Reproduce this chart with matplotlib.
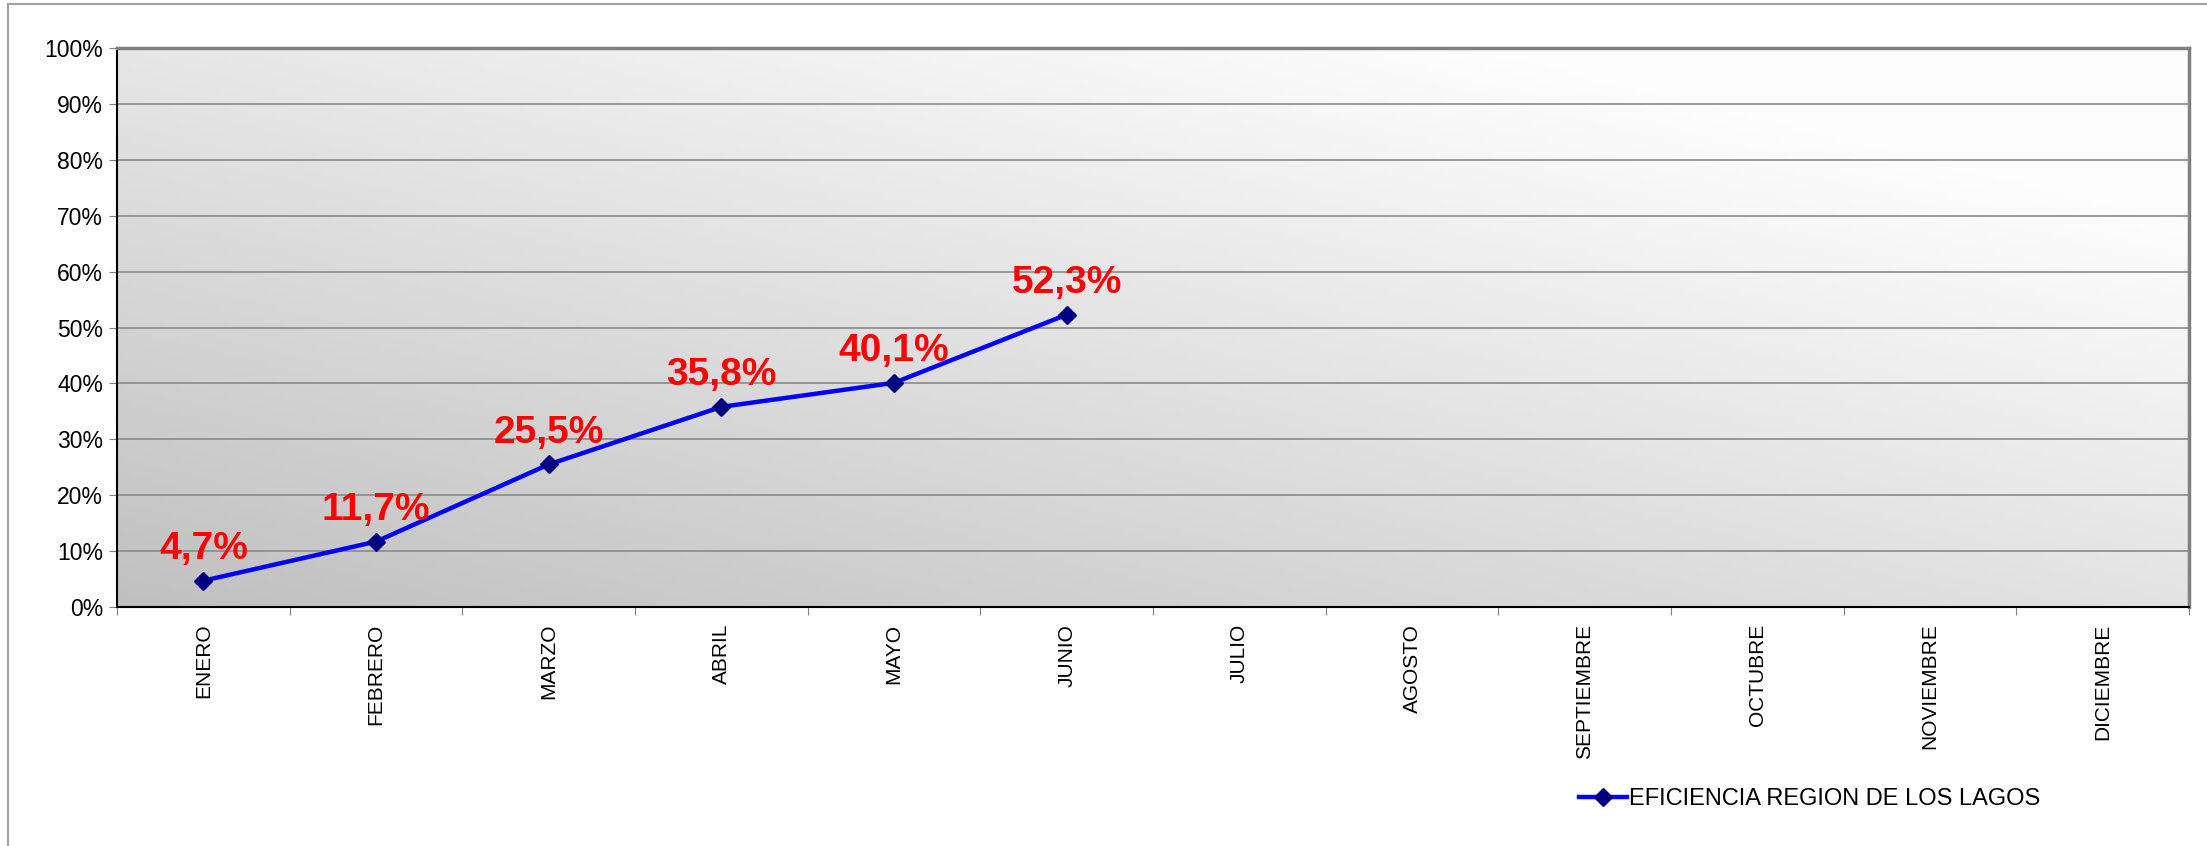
import matplotlib.pyplot as plt
import matplotlib.patches as patches
import numpy as np

plt.rcParams['font.family'] = ['Liberation Sans', 'DejaVu Sans']

meses = ['ENERO', 'FEBRERO', 'MARZO', 'ABRIL', 'MAYO', 'JUNIO', 'JULIO',
         'AGOSTO', 'SEPTIEMBRE', 'OCTUBRE', 'NOVIEMBRE', 'DICIEMBRE']
eficiencia = [4.7, 11.7, 25.5, 35.8, 40.1, 52.3]
etiquetas = ['4,7%', '11,7%', '25,5%', '35,8%', '40,1%', '52,3%']
serie = 'EFICIENCIA REGION DE LOS LAGOS'

W, H = 2207, 846
fig = plt.figure(figsize=(W / 100, H / 100), dpi=100)

# outer chart frame (grey, only top/left visible)
fig.add_artist(patches.Rectangle((8 / W, -0.05), 1.2, 1 - 4 / H + 0.05,
                                 transform=fig.transFigure, fill=False,
                                 edgecolor='#a0a0a0', linewidth=1.5))

ax = fig.add_axes([117 / W, 1 - 607 / H, (2189 - 117) / W, (607 - 48) / H])

# gradient background, dark bottom-left -> light top-right
gx, gy = np.meshgrid(np.linspace(0, 1, 300), np.linspace(0, 1, 100))
g = np.clip(192 + 35 * gx + 38 * gy, 0, 253) / 255
ax.imshow(np.dstack([g, g, g]), extent=[-0.5, 11.5, 0, 100], origin='lower',
          aspect='auto', zorder=0)

ax.set_xlim(-0.5, 11.5)
ax.set_ylim(0, 100)

ax.set_yticks(range(0, 101, 10))
ax.set_yticklabels([f'{v}%' for v in range(0, 101, 10)], fontsize=16.5)
ax.yaxis.grid(True, color='#8a8a8a', linewidth=1.2, zorder=1)
ax.set_axisbelow(True)

ax.set_xticks(np.arange(-0.5, 12, 1))
ax.set_xticklabels([])
ax.set_xticks(range(12), minor=True)
ax.set_xticklabels(meses, minor=True, rotation=90, fontsize=15)
ax.tick_params(axis='x', which='minor', length=0, pad=12)
ax.tick_params(axis='x', which='major', length=6, color='#808080', direction='out')
ax.tick_params(axis='y', length=6, color='#808080', direction='out', pad=4)

for s in ['left', 'bottom']:
    ax.spines[s].set_color('black')
    ax.spines[s].set_linewidth(1.5)
for s in ['top', 'right']:
    ax.spines[s].set_color('#808080')
    ax.spines[s].set_linewidth(2.5)

x = np.arange(len(eficiencia))
ax.plot(x, eficiencia, color='#0000ff', linewidth=3.2, marker='D',
        markersize=9, markerfacecolor='#000080', markeredgecolor='#000080',
        label=serie, zorder=3)

for xi, yi, t in zip(x, eficiencia, etiquetas):
    ax.annotate(t, (xi, yi), xytext=(0, 10), textcoords='offset points',
                ha='center', va='bottom', color='#ff0000', fontsize=28,
                fontweight='bold', zorder=4)

leg = fig.legend(loc='center left', bbox_to_anchor=(1570 / W, 1 - 799 / H),
                 frameon=False, fontsize=17, handlelength=2.0,
                 handletextpad=0.1, borderaxespad=0)

fig.savefig('out.png', dpi=100)
